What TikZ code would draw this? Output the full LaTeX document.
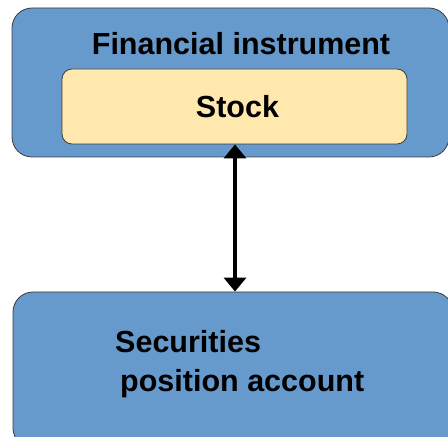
\documentclass[tikz,border=0pt]{standalone}
\usepackage{fontspec}
\setmainfont{Liberation Sans}
\usepackage{xcolor}
\usetikzlibrary{arrows.meta, positioning}

\definecolor{boxblue}{HTML}{6699CC}
\definecolor{boxyellow}{HTML}{FFE8AD}
\definecolor{boxline}{HTML}{3C3C3C}

\tikzset{
    outerbox/.style={draw=boxline, fill=boxblue, line width=0.8pt, rounded corners=20pt, inner sep=0pt},
    innerbox/.style={draw=boxline, fill=boxyellow, line width=0.8pt, rounded corners=10pt, inner sep=0pt},
    boxtext/.style={font=\fontsize{30.5}{39.5}\selectfont\bfseries, inner sep=0pt}
}

\begin{document}
\begin{tikzpicture}[x=1pt, y=1pt, >={Triangle[width=22pt, length=14pt]}]
    % Khung bao của hình
    \useasboundingbox (0,0) rectangle (448,437);

    % 1. Khối trên: Financial instrument
    \node[outerbox, minimum width=437pt, minimum height=149pt] (instr) at (230.5,354.5) {};
    \node[boxtext, anchor=base] (instrtitle) at (241,382) {Financial instrument};
    \node[innerbox, minimum width=345pt, minimum height=75pt] (stock) at (234.5,330.5) {};
    \node[boxtext, anchor=base] (stocktext) at (237.5,319) {Stock};

    % 2. Khối dưới: Securities position account
    \node[outerbox, minimum width=440pt, minimum height=156pt] (account) at (233,67) {};
    \node[boxtext, anchor=base west, align=left] (accounttext) at (115,45)
        {Securities\\\hspace{5pt}position account};

    % Mũi tên hai chiều nối hai khối
    \draw[<->, line width=4.5pt] (stock.south -| 235,0) -- (account.north -| 235,0);
\end{tikzpicture}
\end{document}
